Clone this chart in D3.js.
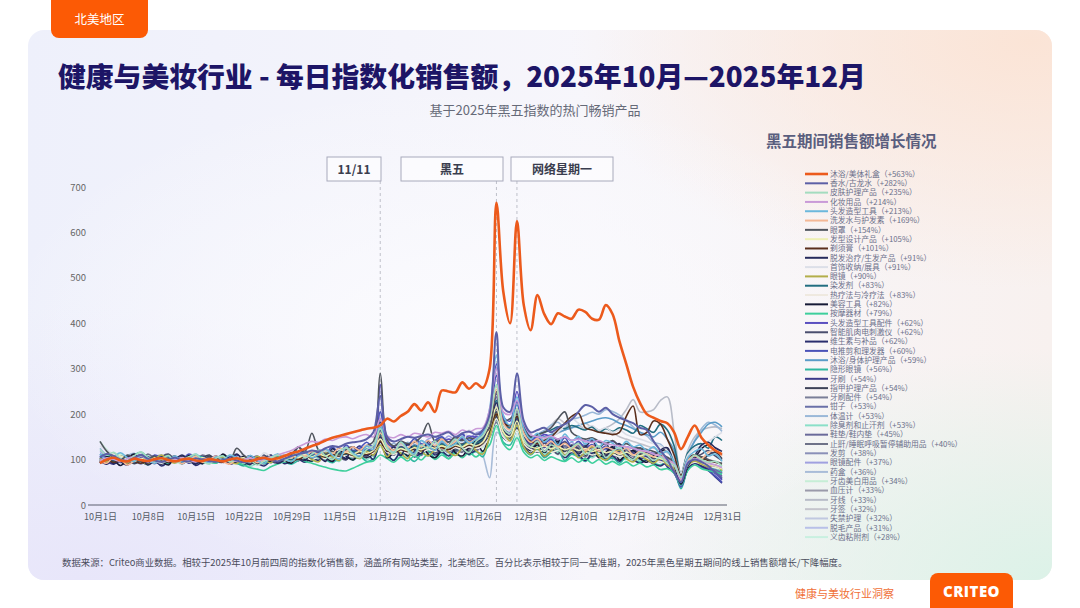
<!DOCTYPE html>
<html>
<head>
<meta charset="utf-8">
<script src="https://cdn.jsdelivr.net/npm/d3@7"></script>
<style>
  body { margin: 0; background: #fff; }
  svg { display: block; }
  text { font-family: "Noto Sans CJK SC", "Noto Sans", sans-serif; }
</style>
</head>
<body>
<script>
// ---- data ----
const days = d3.timeDay.range(new Date(2025, 9, 1), new Date(2026, 0, 1)); // 10月1日 .. 12月31日
const xTickLabels = ["10月1日","10月8日","10月15日","10月22日","10月29日","11月5日","11月12日",
  "11月19日","11月26日","12月3日","12月10日","12月17日","12月24日","12月31日"];
const yTicks = [0, 100, 200, 300, 400, 500, 600, 700];
const eventLabels = ["11/11", "黑五", "网络星期一"];
const eventDates = [new Date(2025, 10, 11), new Date(2025, 10, 28), new Date(2025, 11, 1)];

const categories = ["沐浴/美体礼盒","香水/古龙水","皮肤护理产品","化妆用品","头发造型工具","洗发水与护发素",
  "眼罩","发型设计产品","剃须膏","脱发治疗/生发产品","首饰收纳/展具","眼镜","染发剂","热疗法与冷疗法",
  "美容工具","按摩器材","头发造型工具配件","智能肌肉电刺激仪","维生素与补品","电推剪和理发器",
  "沐浴/身体护理产品","隐形眼镜","牙刷","指甲护理产品","牙刷配件","钳子","体温计","除臭剂和止汗剂",
  "鞋垫/鞋内垫","止鼾/睡眠呼吸暂停辅助用品","发剪","眼镜配件","药盒","牙齿美白用品","血压计","牙线",
  "牙签","失禁护理","脱毛产品","义齿粘附剂"];
const growth = ["+563%","+282%","+235%","+214%","+213%","+169%","+154%","+105%","+101%","+91%","+91%",
  "+90%","+83%","+83%","+82%","+79%","+62%","+62%","+62%","+60%","+59%","+56%","+54%","+54%","+54%",
  "+53%","+53%","+53%","+45%","+40%","+38%","+37%","+36%","+34%","+33%","+33%","+32%","+32%","+31%","+28%"];

const s01 = [92,100,104,98,96,102,99,97,101,103, 99,96,100,102,98,97,101,99,96,100,
  103,98,97,101,104,100,103,108,114,118, 124,130,135,142,148,152,156,160,164,168,
  170,175,190,184,196,205,222,208,226,205, 252,250,248,270,256,268,258,300,665,470,
  400,625,440,385,462,420,398,422,415,410, 430,425,410,408,440,420,360,310,260,225,
  200,192,185,180,160,123,150,175,148,132, 120,112];
const s02 = [105,112,108,100,96,104,110,102,98,95, 100,104,98,96,102,100,97,95,99,102,
  98,94,97,100,103,99,96,102,108,112, 115,120,118,125,130,128,135,138,140,145,
  160,240,150,140,145,150,148,152,155,150, 155,160,150,158,162,155,165,200,380,215,
  205,290,185,160,165,170,160,170,178,188, 205,220,216,205,214,200,192,186,180,170,
  165,140,120,100,72,50,92,100,95,86, 72,60];
const s03 = [122,110,116,102,95,108,117,104,96,101, 109,93,99,106,112,97,90,103,108,95,
  101,92,98,88,96,104,110,99,107,115, 104,112,121,108,100,118,126,111,104,122,
  131,168,126,114,138,120,109,132,124,141, 118,130,145,126,115,139,152,188,265,170,
  158,212,146,128,140,118,132,124,108,126, 135,112,121,130,104,118,126,109,100,116,
  110,98,106,92,88,62,90,110,100,94, 96,86];
const s04 = [98,104,100,96,102,106,100,95,99,103, 97,100,104,98,95,100,102,97,99,101,
  96,100,103,98,101,105,110,115,120,128, 135,140,138,145,142,148,150,146,152,155,
  150,190,152,148,155,150,158,155,150,160, 158,162,155,165,160,168,170,210,300,205,
  200,230,180,155,150,148,152,145,150,142, 145,140,138,142,135,132,130,128,125,120,
  118,112,108,100,90,55,95,102,98,92, 88,82];
const s05 = [112,100,106,115,104,96,109,99,92,104, 98,108,95,101,112,99,93,106,100,110,
  104,96,109,98,92,105,112,101,96,108, 116,104,112,123,110,101,126,114,108,130,
  122,178,126,116,138,124,113,142,131,120, 140,128,135,150,136,145,158,212,330,198,
  176,238,168,145,158,139,150,132,156,140, 151,134,146,128,142,136,124,140,128,132,
  120,128,112,118,94,60,104,118,124,108, 112,96];
const s06 = [98,92,106,101,88,97,108,99,93,104, 96,102,91,100,107,94,99,108,96,90,
  101,95,104,93,99,106,98,110,104,115, 107,118,110,122,113,126,117,128,120,132,
  121,158,132,120,136,125,140,128,142,130, 145,132,140,150,138,146,152,188,255,180,
  166,212,158,138,146,130,140,128,136,124, 134,120,131,118,127,122,114,126,110,118,
  112,106,114,98,92,58,98,108,102,116, 120,108];
const s07 = [140,118,105,98,110,102,96,100,108,95, 100,104,98,102,96,100,106,99,102,97,
  125,110,100,96,102,98,104,100,110,128, 118,158,120,112,118,110,122,128,120,130,
  140,290,145,130,140,135,138,150,180,140, 145,138,150,142,148,145,155,170,250,185,
  190,200,170,150,155,160,170,190,205,160, 150,145,148,140,135,142,130,135,128,125,
  122,118,112,105,95,62,100,110,106,100, 95,92];
const s08 = [95,100,104,108,100,96,102,98,104,100, 97,102,100,95,99,104,100,98,102,96,
  100,104,98,101,97,103,100,105,108,104, 110,106,112,108,115,110,116,112,118,114,
  120,145,122,118,124,120,126,122,128,125, 130,126,132,128,135,130,138,170,215,160,
  150,185,140,128,125,130,124,128,122,126, 120,124,118,122,115,118,112,116,110,108,
  112,106,102,98,88,58,92,100,96,90, 86,80];
const s09 = [96,100,94,98,102,97,92,100,104,98, 95,100,97,102,99,94,98,103,100,96,
  99,102,97,94,100,104,98,102,106,100, 108,104,110,106,112,108,114,110,116,112,
  118,140,120,116,122,118,125,120,128,124, 126,122,130,126,132,128,136,165,200,180,
  175,195,165,140,135,142,150,165,180,195, 202,170,165,160,158,155,160,195,218,155,
  160,185,178,145,110,65,102,110,104,98, 94,90];
const s10 = [96,104,91,99,108,95,102,88,97,105, 93,101,110,98,90,104,96,107,94,100,
  112,97,89,103,95,108,92,99,115,104, 98,118,107,96,124,111,103,128,115,108,
  122,150,118,128,109,134,121,113,140,126, 117,131,145,124,112,138,148,172,225,168,
  150,192,146,126,138,118,132,145,121,130, 112,128,141,119,108,124,135,113,102,118,
  109,96,121,126,88,50,86,108,132,138, 126,118];
const s11 = [130,120,112,105,100,108,96,102,98,92, 100,96,104,98,102,95,100,106,98,102,
  104,110,100,96,115,106,100,104,110,106, 112,118,110,120,114,122,118,125,120,128,
  125,150,130,125,132,128,136,130,138,134, 140,136,142,138,165,155,150,180,250,175,
  165,200,155,140,135,142,150,160,175,190, 180,170,175,165,170,160,165,155,150,145,
  140,135,130,120,105,70,110,125,130,140, 150,160];
const s12 = [103,95,112,100,92,106,98,89,101,110, 99,92,104,97,108,101,93,98,106,95,
  91,102,96,107,99,93,110,101,96,104, 112,100,95,115,106,98,121,109,102,118,
  110,132,106,121,114,102,127,118,108,122, 131,116,109,126,138,120,112,150,200,162,
  141,176,128,112,125,108,119,131,110,121, 104,116,128,107,99,113,121,102,95,108,
  100,92,103,88,80,52,86,97,90,84, 88,76];
const s13 = [104,100,96,102,98,95,100,104,99,96, 102,98,100,96,103,99,95,100,104,98,
  96,100,103,98,95,101,99,104,100,106, 104,110,106,112,108,115,112,118,114,120,
  118,155,125,120,126,122,130,125,132,128, 134,130,136,132,140,136,145,170,230,180,
  170,195,165,150,155,160,165,172,168,175, 170,165,172,160,168,162,170,165,158,175,
  168,160,178,165,130,70,115,130,135,125, 150,142];
const s14 = [96,100,104,99,95,101,98,103,100,96, 100,104,98,95,100,103,99,96,101,98,
  102,98,95,100,104,99,101,97,103,100, 104,100,106,102,108,104,110,106,112,108,
  114,130,116,112,118,114,120,116,122,118, 124,120,126,122,128,124,130,150,190,150,
  140,165,135,122,118,122,116,120,114,118, 112,116,110,114,108,112,106,110,104,108,
  102,98,95,92,82,55,86,94,90,86, 82,78];
const s15 = [92,106,99,87,101,112,96,90,104,97, 88,103,95,109,99,91,106,97,112,100,
  94,108,99,90,103,95,111,98,92,106, 101,97,112,104,96,120,108,99,115,106,
  113,148,104,116,125,108,119,131,112,104, 122,135,115,108,128,140,118,154,198,160,
  148,184,137,120,133,116,128,140,112,126, 135,110,121,104,116,128,99,112,120,102,
  94,110,118,122,86,46,84,102,124,132, 118,110];
const s16 = [98,106,113,104,97,101,110,99,106,96, 91,103,96,108,99,105,95,92,102,97,
  93,88,82,79,76,84,90,95,98,104, 96,92,87,83,79,76,75,81,88,94,
  97,110,102,94,106,97,108,99,112,100, 110,102,114,104,116,106,118,132,175,135,
  122,148,116,104,110,98,106,100,96,104, 94,102,92,100,90,96,88,95,86,92,
  84,88,78,80,70,44,76,88,80,76, 72,68];
const s17 = [108,104,100,96,102,98,104,100,96,102, 98,95,100,104,99,96,102,98,100,104,
  99,96,100,97,103,99,102,98,104,108, 106,112,108,114,110,116,112,118,115,122,
  125,265,135,128,132,128,136,130,134,140, 138,145,140,148,152,150,160,200,310,195,
  185,250,175,150,148,155,150,145,150,142, 146,140,144,138,135,140,132,128,125,120,
  118,112,106,98,80,42,85,95,90,82, 70,55];
const s18 = [101,94,108,97,90,103,111,99,93,106, 112,100,95,104,91,98,107,96,102,94,
  99,106,93,101,110,97,92,104,99,127, 110,101,116,107,98,112,121,104,117,109,
  125,165,121,112,130,118,109,127,136,115, 124,139,120,133,118,129,145,168,212,165,
  152,188,142,130,116,136,125,112,138,122, 117,131,108,124,136,112,120,104,118,126,
  110,102,115,98,86,52,92,104,112,120, 108,98];
const s19 = [97,90,101,95,88,99,104,92,98,86, 95,103,91,99,87,96,105,93,100,90,
  94,88,99,92,86,97,103,91,96,101, 94,103,98,108,96,111,102,118,105,113,
  100,138,112,98,118,124,106,115,128,110, 118,108,125,132,114,121,138,150,195,148,
  142,170,130,114,126,108,120,129,104,116, 110,98,114,121,102,108,96,112,100,92,
  98,90,86,94,78,45,80,92,86,78, 70,58];
const s20 = [106,99,112,101,94,108,102,95,110,103, 97,106,100,112,104,96,101,108,98,105,
  110,101,95,106,99,109,102,96,107,113, 118,106,121,113,128,112,132,120,125,138,
  128,205,138,126,140,131,146,135,128,142, 150,138,145,156,142,150,162,192,285,188,
  170,228,160,142,151,136,145,130,148,128, 140,126,133,121,130,118,124,112,120,106,
  110,98,104,90,76,40,78,92,84,76, 64,50];
const s21 = [112,108,104,100,106,102,98,104,100,96, 100,104,98,102,96,100,104,98,101,97,
  100,104,98,95,100,103,98,102,106,110, 108,114,110,116,112,118,115,120,116,124,
  122,170,128,124,130,126,134,130,136,132, 138,134,142,138,146,142,150,200,300,190,
  175,220,165,150,145,150,155,160,165,170, 175,180,185,190,192,188,180,175,168,160,
  155,150,160,145,120,60,110,140,160,178, 182,172];
const s22 = [95,104,112,106,98,110,116,105,97,103, 108,99,93,101,110,104,96,102,109,98,
  92,86,95,103,91,99,107,95,90,98, 104,96,110,100,93,105,114,99,108,96,
  102,130,110,99,116,108,96,112,120,104, 115,102,120,126,110,118,106,150,190,138,
  132,165,124,110,122,104,115,120,98,112, 106,96,110,115,98,104,92,106,100,94,
  100,92,88,95,78,36,78,92,84,78, 82,74];
const s23 = [104,96,90,102,108,95,99,106,93,101, 109,97,103,92,100,107,95,98,104,91,
  99,94,106,101,92,98,110,97,103,108, 112,101,118,106,114,124,109,117,130,115,
  126,182,120,130,117,128,136,121,133,125, 139,127,132,145,131,140,152,176,245,170,
  158,208,150,136,145,128,140,131,138,122, 135,124,129,118,126,112,121,108,115,102,
  108,96,100,84,70,44,80,92,84,76, 62,48];
const s24 = [93,101,96,107,100,91,98,105,97,90, 102,95,108,99,92,103,110,97,94,105,
  100,108,95,90,103,110,94,101,107,98, 108,99,112,103,116,107,100,118,111,104,
  119,142,114,124,110,121,130,116,125,134, 122,130,119,136,125,132,144,162,205,160,
  150,182,145,128,138,120,130,136,118,132, 124,115,128,120,110,126,118,108,121,112,
  116,104,110,98,88,50,92,104,98,110, 116,102];
const s25 = [108,99,94,104,96,110,101,93,99,107, 96,104,92,101,108,97,103,95,100,106,
  95,102,109,97,91,103,108,96,104,99, 110,102,107,98,113,104,118,110,103,121,
  112,155,124,110,126,117,108,128,119,114, 130,118,126,137,121,129,140,162,215,160,
  152,188,140,126,135,118,128,122,131,115, 128,118,112,125,108,119,112,121,104,116,
  106,112,98,104,86,50,90,100,94,92, 84,78];
const s26 = [112,103,97,108,100,94,106,99,91,104, 96,106,100,94,108,101,95,103,110,97,
  104,95,101,108,97,105,99,110,104,97, 111,103,115,105,100,119,110,104,122,112,
  118,190,126,114,130,122,112,134,125,119, 136,124,131,142,128,137,146,172,238,168,
  158,202,150,133,142,126,137,128,140,124, 131,120,128,116,124,110,122,114,108,120,
  110,104,112,96,82,46,86,98,90,84, 78,70];
const s27 = [125,110,104,96,108,114,101,95,106,110, 97,106,101,110,94,99,108,96,104,98,
  110,96,103,92,100,109,97,106,112,104, 118,108,122,112,125,114,128,119,130,118,
  132,158,128,136,124,138,130,142,128,140, 150,136,144,155,140,152,160,192,285,182,
  168,212,162,148,156,164,176,182,170,188, 192,198,204,200,210,206,198,186,172,160,
  152,138,134,118,104,60,112,142,168,182, 176,162];
const s28 = [104,96,110,100,92,107,98,88,101,108, 94,103,97,108,100,91,99,105,94,102,
  96,90,85,93,100,94,102,108,96,100, 108,98,104,112,102,96,115,104,110,100,
  112,132,108,120,111,104,124,116,108,126, 118,110,130,122,114,128,136,162,200,155,
  145,172,138,122,130,112,124,116,108,122, 110,120,104,114,98,112,106,100,110,96,
  102,94,98,88,78,40,80,94,86,80, 80,72];
const s29 = [94,102,108,96,90,101,106,95,103,97, 105,96,101,109,95,91,102,107,98,103,
  108,97,92,104,99,95,106,100,94,110, 98,111,104,102,113,106,99,117,110,104,
  115,152,112,120,108,125,116,110,128,114, 121,128,115,132,124,118,136,150,188,155,
  146,172,138,122,131,114,126,118,130,112, 120,110,118,106,114,102,115,108,100,112,
  102,96,104,88,80,44,82,96,88,82, 74,64];
const s30 = [104,97,110,102,95,106,99,112,103,94, 101,108,96,103,99,110,102,94,105,100,
  95,103,108,97,104,93,100,96,106,101, 108,98,104,112,101,109,115,104,110,119,
  108,142,122,110,125,113,119,128,115,124, 118,130,124,116,135,126,131,150,182,152,
  141,168,134,120,128,115,124,132,110,121, 115,106,120,112,104,118,108,114,102,109,
  100,108,94,98,82,48,86,98,92,90, 86,80];
const s31 = [95,107,101,93,104,99,90,102,108,96, 104,95,99,110,97,105,93,101,106,94,
  102,110,96,92,104,99,108,95,101,109, 103,112,100,108,116,104,112,105,119,110,
  116,162,114,122,111,126,118,109,131,117, 124,115,131,122,138,125,133,155,198,158,
  147,178,140,124,134,118,126,115,128,120, 112,124,108,118,110,104,116,106,112,100,
  108,98,102,90,80,46,84,96,88,82, 76,68];
const s32 = [118,108,102,97,108,100,95,106,98,93, 104,96,107,100,93,99,106,96,104,98,
  106,96,101,94,104,109,98,106,110,116, 108,118,110,122,112,124,115,126,118,131,
  130,205,138,126,139,128,141,132,145,150, 140,152,143,156,147,158,164,182,228,172,
  160,198,152,138,142,136,131,140,128,138, 126,136,124,130,122,128,118,124,114,120,
  112,116,104,98,84,48,90,100,92,86, 80,72];
const s33 = [108,104,100,106,102,98,104,100,97,102, 100,96,102,98,104,100,97,103,99,96,
  100,104,98,102,106,100,104,98,102,106, 110,106,112,108,115,110,118,114,120,116,
  122,165,126,122,128,124,130,126,132,128, 134,130,136,132,140,136,110,60,160,150,
  160,195,150,135,132,136,130,134,128,132, 126,130,124,128,122,126,120,124,118,122,
  116,112,108,102,90,55,92,102,98,92, 88,84];
const s34 = [140,122,110,112,101,106,96,108,99,94, 104,97,90,101,108,96,104,93,99,110,
  95,104,92,98,108,101,96,104,110,102, 115,104,110,118,106,112,122,110,116,124,
  120,148,122,130,118,126,134,120,128,136, 126,138,130,124,142,134,146,162,205,158,
  148,178,140,126,132,118,128,120,114,126, 116,124,110,120,112,106,118,108,114,104,
  110,100,104,92,86,52,90,100,92,90, 82,78];
const s35 = [102,94,105,97,108,99,92,104,96,90, 101,107,95,103,93,98,108,96,102,106,
  95,102,107,96,91,103,100,94,105,110, 100,110,102,113,104,109,116,106,112,120,
  110,150,120,112,124,115,127,116,121,126, 120,128,135,119,130,124,140,156,192,150,
  142,170,136,122,130,118,126,115,124,118, 112,122,106,118,110,114,104,116,106,110,
  102,108,96,92,84,50,88,98,90,86, 84,74];
const s36 = [104,100,96,102,98,104,100,96,102,98, 95,100,104,98,102,96,100,104,98,100,
  104,98,100,96,102,106,100,104,108,104, 110,106,112,108,115,110,118,114,120,116,
  122,150,126,122,128,124,130,126,132,128, 134,130,136,132,140,136,144,170,215,165,
  155,185,148,135,138,145,150,158,165,170, 175,168,172,165,170,178,190,210,232,205,
  205,210,230,238,160,65,120,150,165,170, 172,168];
const s37 = [96,102,98,104,100,95,100,104,98,102, 100,97,102,98,104,100,96,102,98,104,
  100,96,102,98,104,100,97,103,99,104, 106,102,108,104,110,106,112,108,114,110,
  116,140,120,116,122,118,124,120,126,122, 128,124,130,126,134,130,138,165,190,155,
  150,170,145,140,150,160,175,190,180,170, 175,180,170,165,160,158,150,145,140,135,
  130,125,120,115,100,55,95,110,106,100, 96,92];
const s38 = [98,108,95,104,92,101,110,96,103,94, 104,95,108,99,91,105,96,101,110,97,
  105,94,101,108,96,99,106,110,98,107, 102,113,106,110,118,104,115,121,110,116,
  122,142,114,126,118,110,130,122,116,128, 135,121,128,136,124,138,130,158,195,156,
  148,176,140,126,134,120,130,116,128,120, 124,112,120,116,108,122,110,118,104,116,
  106,110,98,96,86,50,90,96,92,90, 82,76];
const s39 = [110,99,104,95,107,100,92,103,109,97, 94,104,99,109,101,93,98,107,96,104,
  99,106,94,101,108,96,104,110,98,106, 112,102,114,104,110,120,108,116,124,112,
  126,158,120,128,116,130,122,132,126,118, 134,126,140,128,136,142,130,162,212,162,
  152,182,146,134,126,138,124,132,120,130, 118,128,116,124,114,126,112,122,110,116,
  114,104,108,96,86,48,90,98,96,86, 82,70];
const s40 = [100,94,106,98,90,104,99,108,96,92, 103,108,95,100,93,102,109,96,104,99,
  108,96,92,100,95,106,98,93,104,99, 106,98,110,101,108,100,112,104,114,106,
  116,128,112,120,110,122,114,124,116,126, 120,128,122,130,124,132,126,148,168,138,
  132,152,128,118,122,112,120,110,116,112, 108,116,104,112,102,110,100,108,98,106,
  98,94,96,86,80,60,84,92,86,82, 78,70];
const seriesValues = [s01,s02,s03,s04,s05,s06,s07,s08,s09,s10,s11,s12,s13,s14,s15,s16,s17,s18,s19,s20,
  s21,s22,s23,s24,s25,s26,s27,s28,s29,s30,s31,s32,s33,s34,s35,s36,s37,s38,s39,s40];

// ---- styles ----
const palette = ["#ec5a1c","#5c5fa6","#a3dcbf","#c99ad8","#6cb8dc","#f4b896","#50555e","#eef0b4",
  "#5a2e1c","#262a5c","#dcdfe8","#b3ae4a","#226e80","#efe9df","#161a36","#3ecf9c","#5a4fc0","#4a4e6e",
  "#2a2e6e","#4a52b8","#5a9cc8","#2fb8a0","#3a3a8a","#3e4258","#7a7e98","#6a70a8","#9ab8d8","#8ae0c8",
  "#6a6a9a","#6e7288","#8a90b8","#a0a0e0","#a8bcd8","#c6eed6","#9a9aaa","#b8bcc8","#c4c4cc","#c0c8e0",
  "#b8c0e8","#c8f0e0"];

const W = 1080, H = 608;
const svg = d3.select("body").append("svg").attr("width", W).attr("height", H);

// background card
const defs = svg.append("defs");
const base = defs.append("linearGradient").attr("id", "cardBase")
  .attr("x1", 0).attr("y1", 0).attr("x2", 1).attr("y2", 0);
base.append("stop").attr("offset", 0).attr("stop-color", "#eef0fb");
base.append("stop").attr("offset", 0.55).attr("stop-color", "#f7f6fb");
base.append("stop").attr("offset", 1).attr("stop-color", "#f8f1ef");
function radial(id, cx, cy, r, color) {
  const g = defs.append("radialGradient").attr("id", id)
    .attr("cx", cx).attr("cy", cy).attr("r", r);
  g.append("stop").attr("offset", 0).attr("stop-color", color).attr("stop-opacity", 1);
  g.append("stop").attr("offset", 1).attr("stop-color", color).attr("stop-opacity", 0);
}
radial("peach", 0.98, 0.02, 0.45, "#fbe4d6");
radial("mint", 1.0, 1.0, 0.42, "#dcf2e8");
radial("lav", 0.05, 1.0, 0.5, "#e8e6fa");
radial("glow", 0.42, 0.55, 0.45, "#fbfbfe");

const card = { x: 28, y: 30, w: 1024, h: 550 };
["cardBase", "lav", "peach", "mint", "glow"].forEach(id => {
  svg.append("rect").attr("x", card.x).attr("y", card.y).attr("width", card.w).attr("height", card.h)
    .attr("rx", 16).attr("fill", `url(#${id})`);
});

// region tab
svg.append("rect").attr("x", 51).attr("y", -12).attr("width", 97).attr("height", 50)
  .attr("rx", 8).attr("fill", "#fc5a05");
svg.append("text").attr("x", 99.5).attr("y", 24).attr("text-anchor", "middle")
  .attr("fill", "#fff").attr("font-size", 12.5).text("北美地区");

// titles
svg.append("text").attr("x", 58).attr("y", 87).attr("fill", "#1d1566")
  .attr("font-size", 27.8).attr("font-weight", 900)
  .text("健康与美妆行业 - 每日指数化销售额，2025年10月—2025年12月");
svg.append("text").attr("x", 535).attr("y", 115).attr("text-anchor", "middle")
  .attr("fill", "#666a78").attr("font-size", 13).text("基于2025年黑五指数的热门畅销产品");

// scales
const x = d3.scaleTime().domain([days[0], days[days.length - 1]]).range([100, 722]);
const y = d3.scaleLinear().domain([0, 700]).range([505, 187]);

// y axis
svg.append("g").attr("transform", "translate(88,0)")
  .call(d3.axisLeft(y).tickValues(yTicks).tickSize(0).tickPadding(2))
  .call(g => g.select(".domain").remove())
  .call(g => g.selectAll("text").attr("fill", "#666").attr("font-size", 9.5)
    .style("font-family", "'Noto Sans CJK SC', sans-serif"));

// x axis
const tickDates = d3.range(0, days.length, 7).map(i => days[i]);
svg.append("g").attr("transform", "translate(0,505)")
  .call(d3.axisBottom(x).tickValues(tickDates).tickFormat((d, i) => xTickLabels[i]).tickSize(0).tickPadding(9))
  .call(g => g.select(".domain").remove())
  .call(g => g.selectAll("text").attr("fill", "#555a66").attr("font-size", 9)
    .style("font-family", "'Noto Sans CJK SC', sans-serif"));
svg.append("line").attr("x1", 88).attr("x2", 727).attr("y1", 505).attr("y2", 505)
  .attr("stroke", "#5a5e6e").attr("stroke-width", 1);

// event markers
const eventBoxes = [[327, 381], [401, 503], [511, 613]];
eventDates.forEach(d => {
  svg.append("line").attr("x1", x(d)).attr("x2", x(d)).attr("y1", 181).attr("y2", 505)
    .attr("stroke", "#b0b2bc").attr("stroke-width", 0.8).attr("stroke-dasharray", "3,3");
});
eventLabels.forEach((lab, i) => {
  const [x0, x1] = eventBoxes[i];
  svg.append("rect").attr("x", x0).attr("y", 157).attr("width", x1 - x0).attr("height", 24)
    .attr("fill", "rgba(255,255,255,0.55)").attr("stroke", "#a8aabb").attr("stroke-width", 1);
  svg.append("text").attr("x", (x0 + x1) / 2).attr("y", 174).attr("text-anchor", "middle")
    .attr("fill", "#3a3d4e").attr("font-size", 12).attr("font-weight", 700).text(lab);
});

// lines (first legend item drawn on top)
const line = d3.line()
  .x((v, i) => x(days[i]))
  .y(v => y(v))
  .curve(d3.curveCatmullRom.alpha(0.5));
const order = d3.range(seriesValues.length).reverse();
svg.append("g").selectAll("path").data(order).join("path")
  .attr("d", i => line(seriesValues[i]))
  .attr("fill", "none")
  .attr("stroke", i => palette[i])
  .attr("stroke-width", i => i === 0 ? 2.6 : (i === 1 ? 2 : 1.6))
  .attr("stroke-linejoin", "round");

// legend
svg.append("text").attr("x", 766).attr("y", 147).attr("fill", "#5a5e7e")
  .attr("font-size", 15.5).attr("font-weight", 700).text("黑五期间销售额增长情况");
const lg = svg.append("g");
categories.forEach((name, i) => {
  const ly = 174 + i * 9.31;
  lg.append("line").attr("x1", 805).attr("x2", 828).attr("y1", ly).attr("y2", ly)
    .attr("stroke", palette[i]).attr("stroke-width", i === 0 ? 2.6 : 2);
  lg.append("text").attr("x", 830).attr("y", ly).attr("dy", "0.35em")
    .attr("fill", "#6b6f8a").attr("font-size", 7.8).text(`${name}（${growth[i]}）`);
});

// footer
svg.append("text").attr("x", 62).attr("y", 566).attr("fill", "#4a4c5c").attr("font-size", 9.4)
  .text("数据来源：Criteo商业数据。相较于2025年10月前四周的指数化销售额，涵盖所有网站类型，北美地区。百分比表示相较于同一基准期，2025年黑色星期五期间的线上销售额增长/下降幅度。");
svg.append("text").attr("x", 795).attr("y", 598).attr("fill", "#f07038").attr("font-size", 11)
  .text("健康与美妆行业洞察");
svg.append("rect").attr("x", 930).attr("y", 573).attr("width", 83).attr("height", 45)
  .attr("rx", 8).attr("fill", "#fc5a05");
svg.append("text").attr("x", 971.5).attr("y", 597).attr("text-anchor", "middle")
  .attr("fill", "#fff").attr("font-size", 15).attr("font-weight", 800)
  .style("font-family", "'Open Sans', 'Noto Sans', sans-serif").attr("letter-spacing", 0.5).text("CRITEO");
</script>
</body>
</html>
